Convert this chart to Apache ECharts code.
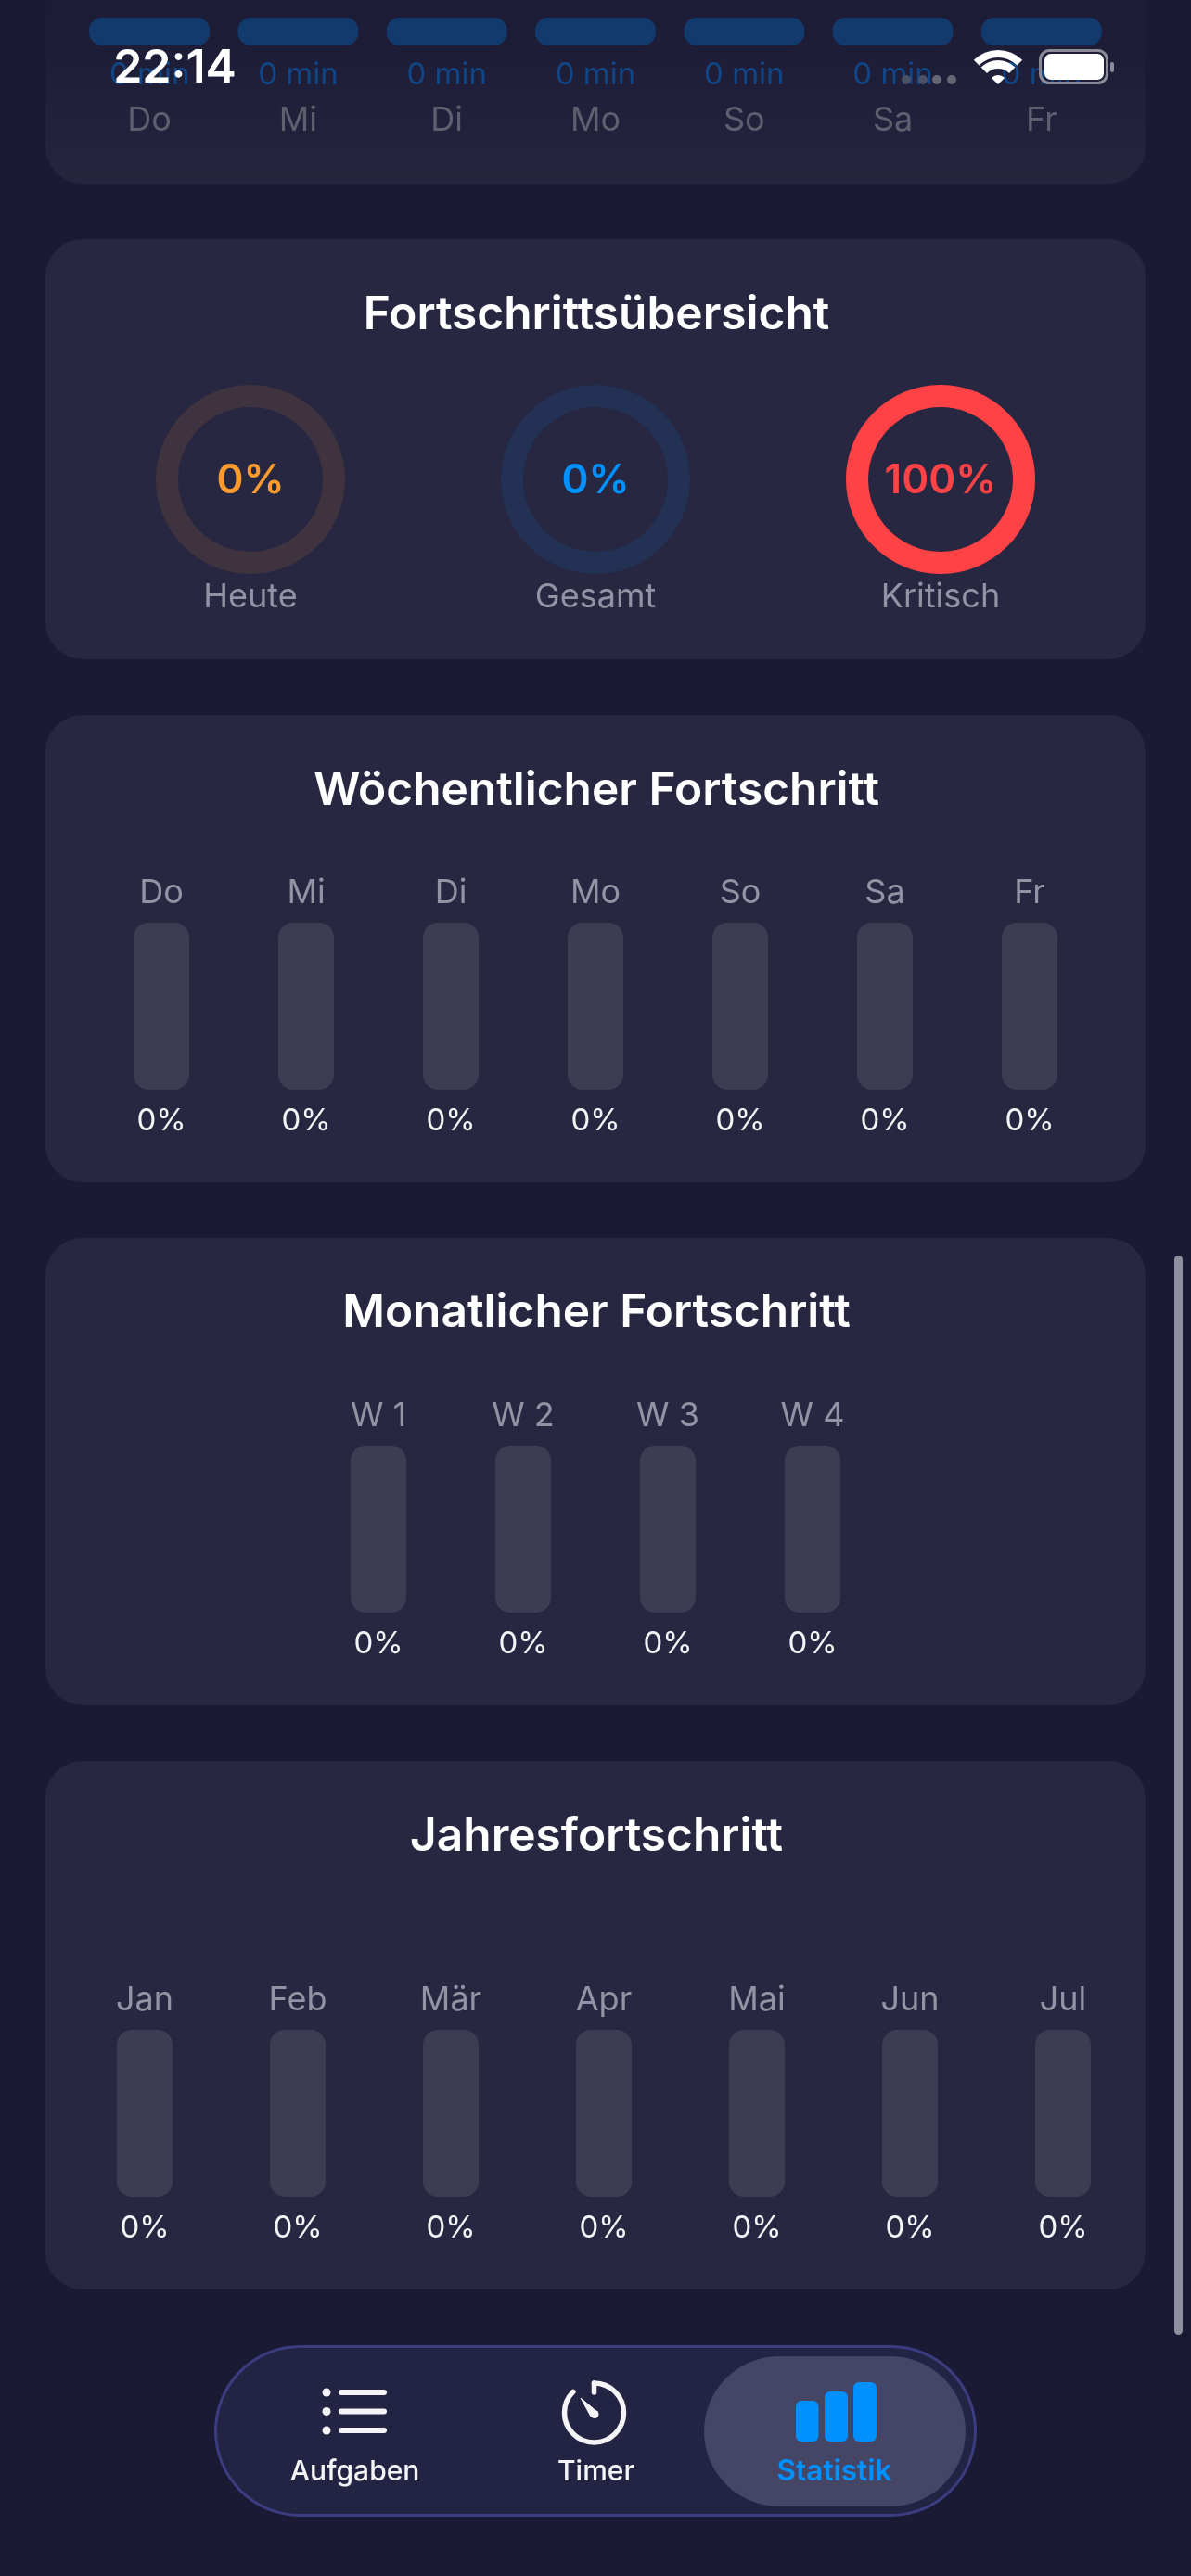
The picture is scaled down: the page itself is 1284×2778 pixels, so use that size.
<!DOCTYPE html>
<html>
<head>
<meta charset="utf-8">
<title>Statistik</title>
<script src="https://cdn.jsdelivr.net/npm/echarts@6/dist/echarts.min.js"></script>
<style>
html, body { margin: 0; padding: 0; background: #1a1a35; }
#main { width: 1284px; height: 2778px; }
</style>
</head>
<body>
<div id="main"></div>
<script>
var recentDays = ['Do', 'Mi', 'Di', 'Mo', 'So', 'Sa', 'Fr'];
var recentMinutes = [0, 0, 0, 0, 0, 0, 0];
var ringNames = ['Heute', 'Gesamt', 'Kritisch'];
var ringValues = [0, 0, 100];
var weekDays = ['Do', 'Mi', 'Di', 'Mo', 'So', 'Sa', 'Fr'];
var weekValues = [0, 0, 0, 0, 0, 0, 0];
var monthWeeks = ['W 1', 'W 2', 'W 3', 'W 4'];
var monthValues = [0, 0, 0, 0];
var yearMonths = ['Jan', 'Feb', 'Mär', 'Apr', 'Mai', 'Jun', 'Jul'];
var yearValues = [0, 0, 0, 0, 0, 0, 0];
var cardTitles = ['Fortschrittsübersicht', 'Wöchentlicher Fortschritt', 'Monatlicher Fortschritt', 'Jahresfortschritt'];
var tabLabels = ['Aufgaben', 'Timer', 'Statistik'];
var clockText = '22:14';

var FONT = 'Inter';
var GREY = '#9393a5';
var WHITE = '#f5f5f8';
var BLUE = '#0091ff';

var myChart = echarts.init(document.getElementById('main'), null, { renderer: 'canvas', width: 1284, height: 2778 });

// one progress block: labels above, empty track, percent below
var grids = [], xAxes = [], yAxes = [], series = [];
function addBars(left, width, top, cats, vals) {
    var i = grids.length;
    grids.push({ left: left, width: width, top: top, height: 180 });
    xAxes.push({
        type: 'category', gridIndex: i, position: 'top', data: cats,
        axisLine: { show: false }, axisTick: { show: false },
        axisLabel: { color: GREY, fontSize: 36, lineHeight: 36, margin: 14, fontFamily: FONT, interval: 0 }
    });
    yAxes.push({ type: 'value', gridIndex: i, min: 0, max: 100, show: false });
    series.push({
        type: 'bar', xAxisIndex: i, yAxisIndex: i, data: vals, barWidth: 60,
        showBackground: true,
        backgroundStyle: { color: '#3c3c52', borderRadius: 16 },
        itemStyle: { color: BLUE, borderRadius: 16 },
        label: {
            show: true, position: 'bottom', distance: 17, formatter: '{c}%',
            color: WHITE, fontSize: 33, lineHeight: 34, fontFamily: FONT
        }
    });
}

// the scrolled away card at the top, mostly under the status bar
grids.push({ left: 81, width: 1122, top: 19, height: 30 });
xAxes.push({
    type: 'category', gridIndex: 0, data: recentDays,
    axisLine: { show: false }, axisTick: { show: false },
    axisLabel: { color: '#5f5f6f', fontSize: 36, lineHeight: 36, margin: 63, fontFamily: FONT, interval: 0 }
});
yAxes.push({ type: 'value', gridIndex: 0, min: 0, max: 100, show: false });
series.push({
    type: 'bar', xAxisIndex: 0, yAxisIndex: 0, data: recentMinutes, barWidth: 130, barMinHeight: 30,
    itemStyle: { color: '#133a6d', borderRadius: 14 },
    label: {
        show: true, position: 'bottom', distance: 15, formatter: '{c} min',
        color: '#104686', fontSize: 33, lineHeight: 34, fontFamily: FONT
    }
});

addBars(96, 1092, 995, weekDays, weekValues);
addBars(330, 624, 1559, monthWeeks, monthValues);
addBars(73.5, 1155, 2189, yearMonths, yearValues);

// rings
var ringCenters = [270, 642, 1014];
var ringTracks = ['#3f3340', '#223154', '#5a2a38'];
var ringColors = ['#ff9a2e', BLUE, '#ff4245'];
ringNames.forEach(function (name, i) {
    series.push({
        type: 'gauge', center: [ringCenters[i], 517], radius: 102,
        startAngle: 90, endAngle: -270, min: 0, max: 100,
        axisLine: { lineStyle: { width: 24, color: [[1, ringTracks[i]]] } },
        progress: { show: true, width: 24, itemStyle: { color: ringColors[i] } },
        pointer: { show: false }, anchor: { show: false },
        axisTick: { show: false }, splitLine: { show: false }, axisLabel: { show: false },
        title: { offsetCenter: [0, 127], color: GREY, fontSize: 36, fontFamily: FONT },
        detail: {
            offsetCenter: [0, 2], formatter: '{value}%', color: ringColors[i],
            fontSize: 44, fontWeight: 600, fontFamily: FONT
        },
        data: [{ value: ringValues[i], name: name }]
    });
});

var titleYs = [340, 853, 1416, 1981];
var titles = cardTitles.map(function (t, i) {
    return {
        text: t, left: 643, top: titleYs[i], padding: 0, textAlign: 'center', textVerticalAlign: 'middle',
        textStyle: { color: '#ffffff', fontSize: 49.6, fontWeight: 600, fontFamily: FONT }
    };
});

function card(top, bottom, fill) {
    return {
        type: 'rect', z: 0,
        shape: { x: 49, y: top, width: 1186, height: bottom - top, r: 40 },
        style: { fill: fill || '#272741' }
    };
}
var topFade = new echarts.graphic.LinearGradient(0, 0, 0, 1, [
    { offset: 0, color: '#1a1a35' }, { offset: 0.55, color: '#1d1d38' }, { offset: 1, color: '#25253e' }
]);
var TOPZ = 50;
function txt(s, x, y, font, fill, align) {
    return {
        type: 'text', z: TOPZ,
        style: { text: s, x: x, y: y, font: font, fill: fill, textAlign: align || 'center', textVerticalAlign: 'middle' }
    };
}
function bar(x, y, w, h, r, fill) {
    return { type: 'rect', z: TOPZ, shape: { x: x, y: y, width: w, height: h, r: r }, style: { fill: fill } };
}
function dot(x, y, r, fill) {
    return { type: 'circle', z: TOPZ, shape: { cx: x, cy: y, r: r }, style: { fill: fill } };
}
function wifi(cx, cy) {
    var a = -Math.PI * 0.75, b = -Math.PI * 0.25;
    function band(r0, r) {
        return { type: 'sector', z: TOPZ, shape: { cx: cx, cy: cy, r0: r0, r: r, startAngle: a, endAngle: b }, style: { fill: '#ffffff' } };
    }
    return [band(0, 10), band(17, 26), band(29, 37)];
}

var graphics = [
    card(-120, 198, topFade),
    card(258, 711),
    card(771, 1275),
    card(1335, 1839),
    card(1899, 2469),
    // scroll bar
    bar(1266, 1354, 9, 1164, 4.5, '#8e8e9e'),
    // tab bar
    { type: 'rect', z: 1, shape: { x: 232.5, y: 2530.5, width: 819, height: 182, r: 91 }, style: { fill: '#232344', stroke: '#3c3c80', lineWidth: 3 } },
    { type: 'rect', z: 2, shape: { x: 759, y: 2541, width: 282, height: 162, r: 81 }, style: { fill: '#454566' } },
    txt(tabLabels[0], 382.5, 2666, '500 30px ' + FONT, WHITE),
    txt(tabLabels[1], 642.5, 2666, '500 30px ' + FONT, WHITE),
    txt(tabLabels[2], 899.5, 2666, '600 31.5px ' + FONT, BLUE),
    // list icon
    dot(352, 2580, 4.5, WHITE), dot(352, 2600.5, 4.5, WHITE), dot(352, 2621, 4.5, WHITE),
    bar(365, 2577, 52, 6, 3, WHITE), bar(365, 2597.5, 52, 6, 3, WHITE), bar(365, 2618, 52, 6, 3, WHITE),
    // timer icon
    { type: 'arc', z: TOPZ, shape: { cx: 640.5, cy: 2602, r: 32, startAngle: -Math.PI / 2, endAngle: Math.PI * 1.25, clockwise: true }, style: { stroke: WHITE, fill: null, lineWidth: 5.5, lineCap: 'round' } },
    { type: 'line', z: TOPZ, shape: { x1: 640.5, y1: 2570, x2: 640.5, y2: 2580 }, style: { stroke: WHITE, lineWidth: 5.5, lineCap: 'round' } },
    { type: 'polygon', z: TOPZ, shape: { points: [[626, 2586], [637, 2606], [645, 2602]] }, style: { fill: WHITE, stroke: WHITE, lineWidth: 1, lineJoin: 'round' } },
    dot(641, 2603.5, 4.5, WHITE),
    // chart icon
    bar(858, 2589, 24.5, 44, 6, BLUE), bar(889, 2579, 25, 54, 6, BLUE), bar(920, 2569, 25, 64, 6, BLUE),
    // status bar
    txt(clockText, 188.5, 73.5, '600 50px ' + FONT, '#ffffff'),
    dot(977, 86, 5, '#4a5068'), dot(995, 86, 5, '#4a5068'), dot(1010, 86, 5, '#666676'), dot(1026, 86, 5, '#666676')
].concat(wifi(1076, 91)).concat([
    { type: 'rect', z: TOPZ, shape: { x: 1121.5, y: 54.5, width: 72, height: 35, r: 10 }, style: { fill: null, stroke: '#8a8a98', lineWidth: 3 } },
    bar(1126, 58, 64, 28, 7, '#ffffff'),
    bar(1197, 67, 4, 11, 2, '#8a8a98')
]);

var option = {
    animation: false,
    backgroundColor: '#1a1a35',
    title: titles,
    grid: grids,
    xAxis: xAxes,
    yAxis: yAxes,
    series: series,
    graphic: { elements: graphics }
};
myChart.setOption(option);
</script>
</body>
</html>
